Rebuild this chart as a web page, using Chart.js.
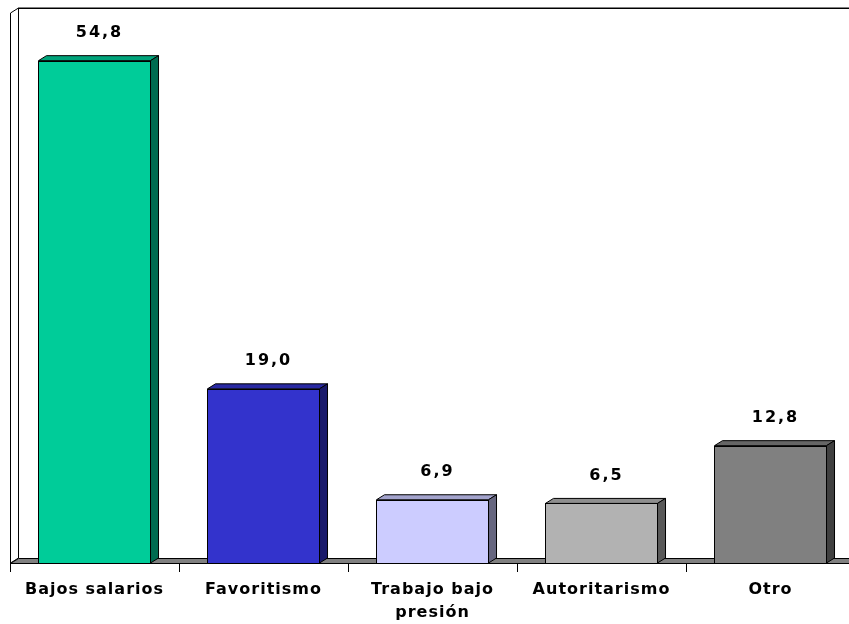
<!DOCTYPE html>
<html>
<head>
<meta charset="utf-8">
<script src="https://cdn.jsdelivr.net/npm/chart.js@4/dist/chart.umd.min.js"></script>
<style>
  html, body { margin: 0; padding: 0; background: #fff; overflow: hidden; }
  #wrap { width: 849px; height: 624px; overflow: hidden; }
</style>
</head>
<body>
<div id="wrap"><canvas id="grafico" width="860" height="624"></canvas></div>
<script>
const categorias = ['Bajos salarios', 'Favoritismo', ['Trabajo bajo', 'presión'], 'Autoritarismo', 'Otro'];
const valores = [54.8, 19.0, 6.9, 6.5, 12.8];
const coresFrente = ['#00CC99', '#3333CC', '#CCCCFF', '#B2B2B2', '#808080'];
const coresTopo = ['#00A37A', '#2929A3', '#A3A3CC', '#8E8E8E', '#666666'];
const coresLado = ['#006B50', '#1A1A6B', '#66667F', '#595959', '#404040'];

const DX = 8, DY = 5;

const efeito3d = {
    id: 'efeito3d',
    beforeInit(chart) {
        chart.ctx.letterSpacing = '1px';
    },
    beforeDraw(chart) {
        chart.ctx.letterSpacing = '1px';
    },
    beforeDatasetsDraw(chart) {
        const ctx = chart.ctx;
        const area = chart.chartArea;
        const y = chart.scales.y;
        const topo = y.getPixelForValue(60);
        const chao = y.getPixelForValue(0);
        ctx.save();
        ctx.lineWidth = 1;
        // parede lateral esquerda
        ctx.fillStyle = '#ffffff';
        ctx.strokeStyle = '#000';
        ctx.beginPath();
        ctx.moveTo(area.left + 0.5, topo);
        ctx.lineTo(area.left + DX + 0.5, topo - DY);
        ctx.lineTo(area.left + DX + 0.5, chao - DY);
        ctx.lineTo(area.left + 0.5, chao);
        ctx.closePath();
        ctx.fill();
        ctx.stroke();
        // linha do topo da parede de fundo
        ctx.strokeStyle = '#808080';
        ctx.beginPath();
        ctx.moveTo(area.left + DX, topo - DY - 0.5);
        ctx.lineTo(chart.width, topo - DY - 0.5);
        ctx.stroke();
        ctx.strokeStyle = '#000';
        ctx.beginPath();
        ctx.moveTo(area.left + DX, topo - DY + 0.5);
        ctx.lineTo(chart.width, topo - DY + 0.5);
        ctx.stroke();
        // chao
        ctx.fillStyle = '#808080';
        ctx.beginPath();
        ctx.moveTo(area.left + 0.5, chao + 0.5);
        ctx.lineTo(area.left + DX + 0.5, chao - DY + 0.5);
        ctx.lineTo(chart.width + DX, chao - DY + 0.5);
        ctx.lineTo(chart.width, chao + 0.5);
        ctx.closePath();
        ctx.fill();
        ctx.stroke();
        // marcas do eixo x
        ctx.strokeStyle = '#000';
        const passo = (area.right - area.left) / categorias.length;
        for (let i = 0; i <= categorias.length; i++) {
            const px = Math.round(area.left + passo * i) + 0.5;
            ctx.beginPath();
            ctx.moveTo(px, chao);
            ctx.lineTo(px, chao + 9);
            ctx.stroke();
        }
        ctx.restore();
    },
    afterDatasetsDraw(chart) {
        const ctx = chart.ctx;
        const meta = chart.getDatasetMeta(0);
        ctx.save();
        ctx.lineWidth = 1;
        ctx.strokeStyle = '#000';
        meta.data.forEach((bar, i) => {
            const l = bar.x - bar.width / 2, r = bar.x + bar.width / 2;
            const t = bar.y, b = bar.base;
            // topo
            ctx.fillStyle = coresTopo[i];
            ctx.beginPath();
            ctx.moveTo(l, t);
            ctx.lineTo(l + DX, t - DY);
            ctx.lineTo(r + DX, t - DY);
            ctx.lineTo(r, t);
            ctx.closePath();
            ctx.fill();
            ctx.stroke();
            // lado
            ctx.fillStyle = coresLado[i];
            ctx.beginPath();
            ctx.moveTo(r, t);
            ctx.lineTo(r + DX, t - DY);
            ctx.lineTo(r + DX, b - DY);
            ctx.lineTo(r, b);
            ctx.closePath();
            ctx.fill();
            ctx.stroke();
            // contorno da frente
            ctx.strokeRect(Math.round(l) + 0.5, Math.round(t) + 0.5, Math.round(r - l), Math.round(b - t));
            // rotulo
            ctx.fillStyle = '#000';
            ctx.font = 'bold 16px "DejaVu Sans"';
            ctx.letterSpacing = '2px';
            ctx.textAlign = 'center';
            ctx.textBaseline = 'middle';
            const txt = valores[i].toFixed(1).replace('.', ',');
            ctx.fillText(txt, bar.x + DX / 2 + 1, t - 28);
        });
        ctx.restore();
    }
};

const myChart = new Chart(document.getElementById('grafico').getContext('2d'), {
    type: 'bar',
    data: {
        labels: categorias,
        datasets: [{
            data: valores,
            backgroundColor: coresFrente,
            borderWidth: 0,
            barPercentage: 0.663,
            categoryPercentage: 1
        }]
    },
    options: {
        responsive: false,
        animation: false,
        layout: { padding: { left: 10, right: 5, top: 13, bottom: 0 } },
        plugins: { legend: { display: false }, tooltip: { enabled: false } },
        scales: {
            y: { display: false, min: 0, max: 60 },
            x: {
                grid: { display: false, drawTicks: false },
                border: { display: false },
                afterFit(scale) { scale.height = 61; },
                ticks: {
                    color: '#000',
                    padding: 16,
                    maxRotation: 0,
                    autoSkip: false,
                    font: { family: '"DejaVu Sans"', weight: 'bold', size: 16, lineHeight: 1.4 }
                }
            }
        }
    },
    plugins: [efeito3d]
});
</script>
</body>
</html>
